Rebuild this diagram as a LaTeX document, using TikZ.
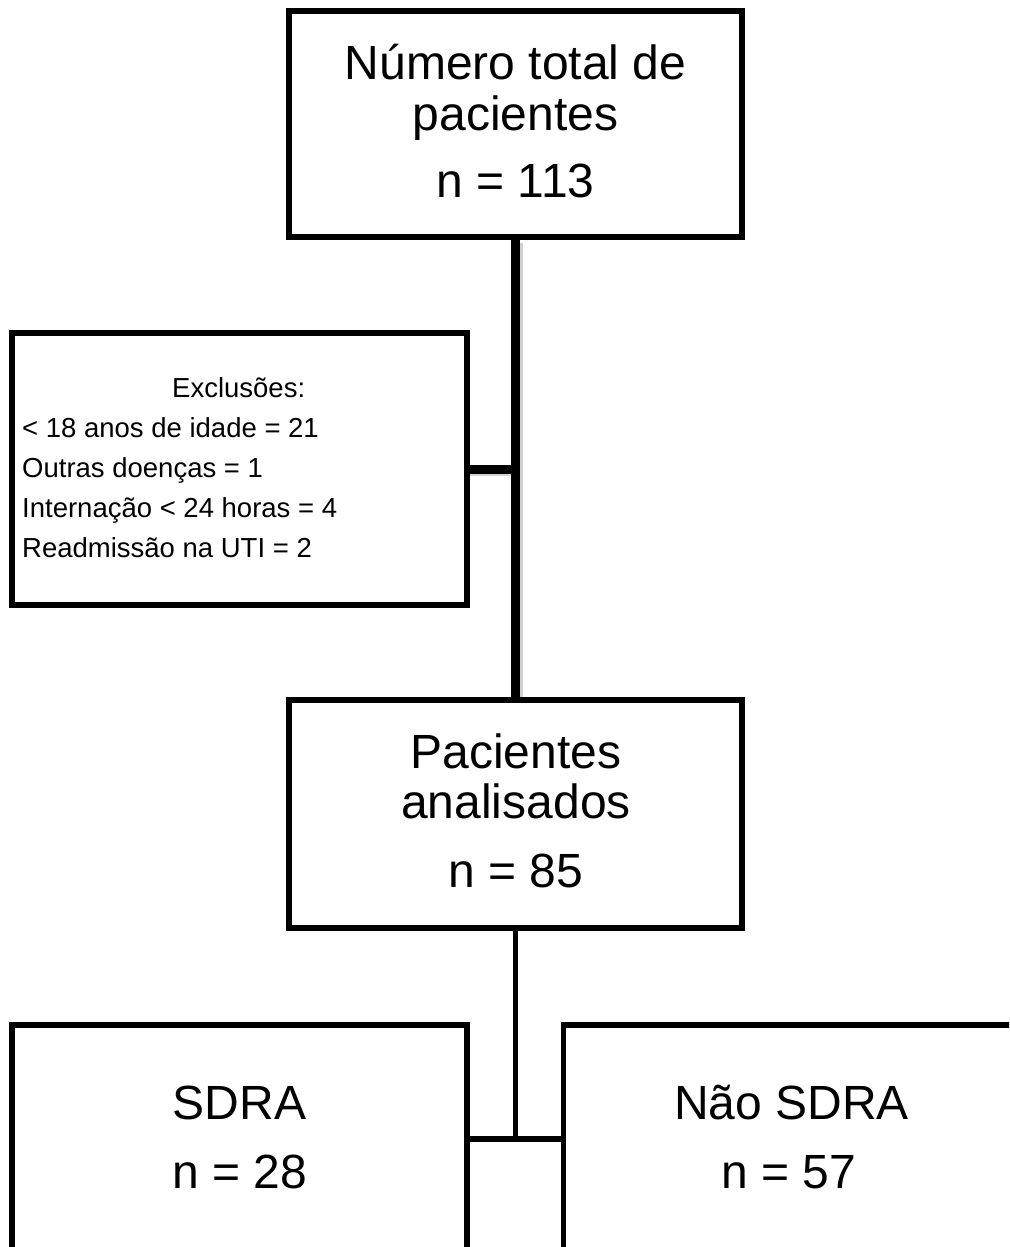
\documentclass[tikz,border=0pt]{standalone}
\usepackage{fontspec}
\setmainfont{Liberation Sans}
\begin{document}
\begin{tikzpicture}[x=1pt,y=-1pt]
\tikzset{
  boxnode/.style={draw, line width=5.5pt, inner sep=0pt, rectangle},
  bigtext/.style={font=\fontsize{48}{48}\selectfont, anchor=base, inner sep=0pt},
  smalltext/.style={font=\fontsize{27.5}{27.5}\selectfont, anchor=base west, inner sep=0pt},
  thickline/.style={line width=9pt},
  shadowline/.style={line width=4pt, black!18},
  midline/.style={line width=5.5pt},
}
\useasboundingbox (0,0) rectangle (1009,1247);
\fill[white] (0,0) rectangle (1009,1247);
\clip (0,0) rectangle (1009,1247);

% boxes
\node[boxnode, minimum width=453pt, minimum height=226pt] (top) at (515.5,124) {};
\node[boxnode, minimum width=455pt, minimum height=272pt] (excl) at (239.5,469) {};
\node[boxnode, minimum width=453pt, minimum height=228pt] (pac) at (515.5,814) {};
\node[boxnode, minimum width=455pt, minimum height=400pt] (sdra) at (239.5,1225) {};
\node[boxnode, minimum width=455pt, minimum height=400pt] (nao) at (791,1225) {};

% connectors
\coordinate (j1) at (top.south |- excl.east);
\draw[shadowline] ([xshift=5pt,yshift=-3pt]top.south) -- ([xshift=5pt]pac.north);
\draw[shadowline] ([yshift=-5pt]excl.east) -- ([yshift=-5pt]j1);
\draw[thickline] (top.south) -- (pac.north);
\draw[thickline] (excl.east) -- (j1);
\coordinate (j2) at (515.5,1139);
\draw[midline] (pac.south) -- (j2);
\draw[midline] (sdra.east |- j2) -- (nao.west |- j2);

% texts
\node[bigtext] (t1) at (515.5,79) {Número total de};
\node[bigtext] (t2) at (515.5,130) {pacientes};
\node[bigtext] (t3) at (515.5,197) {n = 113};

\node[smalltext] (e0) at (172,397) {Exclusões:};
\node[smalltext] (e1) at (22,437) {< 18 anos de idade = 21};
\node[smalltext] (e2) at (22,477) {Outras doenças = 1};
\node[smalltext] (e3) at (22,517) {Internação < 24 horas = 4};
\node[smalltext] (e4) at (22,557) {Readmissão na UTI = 2};

\node[bigtext] (p1) at (516,768) {Pacientes};
\node[bigtext] (p2) at (516,818) {analisados};
\node[bigtext] (p3) at (516,887) {n = 85};

\node[bigtext] (s1) at (239.5,1119) {SDRA};
\node[bigtext] (s2) at (239.5,1188) {n = 28};

\node[bigtext] (n1) at (791.5,1119) {Não SDRA};
\node[bigtext] (n2) at (788.5,1188) {n = 57};
\end{tikzpicture}
\end{document}
